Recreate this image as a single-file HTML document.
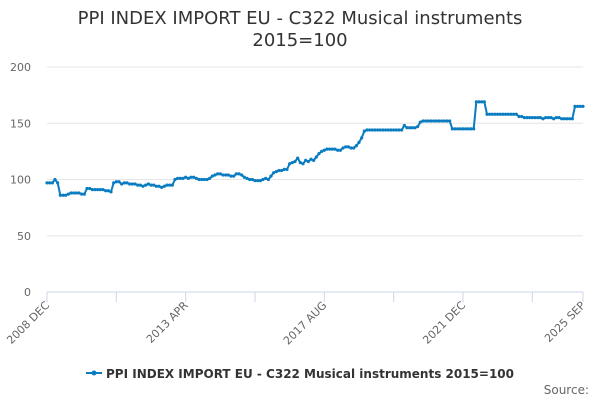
<!DOCTYPE html>
<html><head><meta charset="utf-8"><style>
body{margin:0;background:#fff;font-family:"DejaVu Sans","Liberation Sans",sans-serif}
#wrap{position:relative;width:600px;height:400px;overflow:hidden}
</style></head><body>
<div id="wrap">
<svg id="chart" width="600" height="400" font-family="DejaVu Sans, Liberation Sans, sans-serif">
<text x="300" y="24" text-anchor="middle" font-size="18" fill="#333">PPI INDEX IMPORT EU - C322 Musical instruments</text>
<text x="300" y="46" text-anchor="middle" font-size="18" fill="#333">2015=100</text>
<g id="grid"></g><g id="xaxis"></g><g id="series"></g>
<g>
<line x1="86" y1="373" x2="102" y2="373" stroke="#0a7cc1" stroke-width="2"/>
<circle cx="94" cy="373" r="2.5" fill="#0a7cc1"/>
<text x="106" y="378" font-size="12.4" font-weight="bold" fill="#333" textLength="408" lengthAdjust="spacingAndGlyphs">PPI INDEX IMPORT EU - C322 Musical instruments 2015=100</text>
</g>
<text x="589" y="394" text-anchor="end" font-size="12" fill="#666">Source:</text>
</svg>
</div>
<script>
const values=[97,97,97,100,97,86,86,86,87,88,88,88,88,87,87,92,92,91,91,91,91,91,90,90,89,97,98,98,96,97,97,96,96,96,95,95,94,95,96,95,95,94,94,93,94,95,95,95,100,101,101,101,102,101,102,102,101,100,100,100,100,101,103,104,105,105,104,104,104,103,103,105,105,104,102,101,100,100,99,99,99,100,101,100,103,106,107,108,108,109,109,114,115,116,119,115,114,117,116,118,117,120,123,125,126,127,127,127,127,126,126,128,129,129,128,128,130,133,137,143,144,144,144,144,144,144,144,144,144,144,144,144,144,144,148,146,146,146,146,147,151,152,152,152,152,152,152,152,152,152,152,152,145,145,145,145,145,145,145,145,145,169,169,169,169,158,158,158,158,158,158,158,158,158,158,158,158,156,156,155,155,155,155,155,155,155,154,155,155,155,154,155,155,154,154,154,154,154,165,165,165,165];
const yTicks=[0,50,100,150,200];
const xLabels=["2008 DEC","2013 APR","2017 AUG","2021 DEC","2025 SEP"];
const xLabelIdx=[0,52,104,156,201];
const tickIdx=[0,26,52,78,104,130,156,182,201];
const NS="http://www.w3.org/2000/svg";
const X0=47,X1=583,Y0=292,YS=1.125;
const xs=i=>X0+(X1-X0)*i/(values.length-1);
const ys=v=>Y0-v*YS;
function mk(t,a,p){const e=document.createElementNS(NS,t);for(const k in a)e.setAttribute(k,a[k]);p.appendChild(e);return e;}
const g=document.getElementById('grid'),xa=document.getElementById('xaxis'),s=document.getElementById('series');
yTicks.forEach(v=>{
 const l=mk('line',{x1:X0,x2:X1,y1:ys(v),y2:ys(v),stroke:v===0?'#ccd6eb':'#e6e6e6','stroke-width':1},g);
 
 
 const t=mk('text',{x:X0-16,y:ys(v)+4,'text-anchor':'end','font-size':11,fill:'#666'},g);
 t.textContent=v;
 
 
});
tickIdx.forEach(i=>{
 const l=mk('line',{x1:xs(i),x2:xs(i),y1:Y0,y2:Y0+10,stroke:'#ccd6eb'},xa);
 
 
});
xLabels.forEach((lab,k)=>{
 const x=xs(xLabelIdx[k]);
 const t=mk('text',{x:x+3,y:Y0+14,'text-anchor':'end','font-size':11,fill:'#666',transform:`rotate(-45 ${x+3} ${Y0+14})`},xa);
 t.textContent=lab;
 
 
});
const pl=mk('polyline',{points:values.map((v,i)=>xs(i)+','+ys(v)).join(' '),fill:'none',stroke:'#0a7cc1','stroke-width':2},s);


values.forEach((v,i)=>{
 const c=mk('circle',{cx:xs(i),cy:ys(v),r:1.6,fill:'#0a7cc1'},s);
 
 
});
</script>
</body></html>
